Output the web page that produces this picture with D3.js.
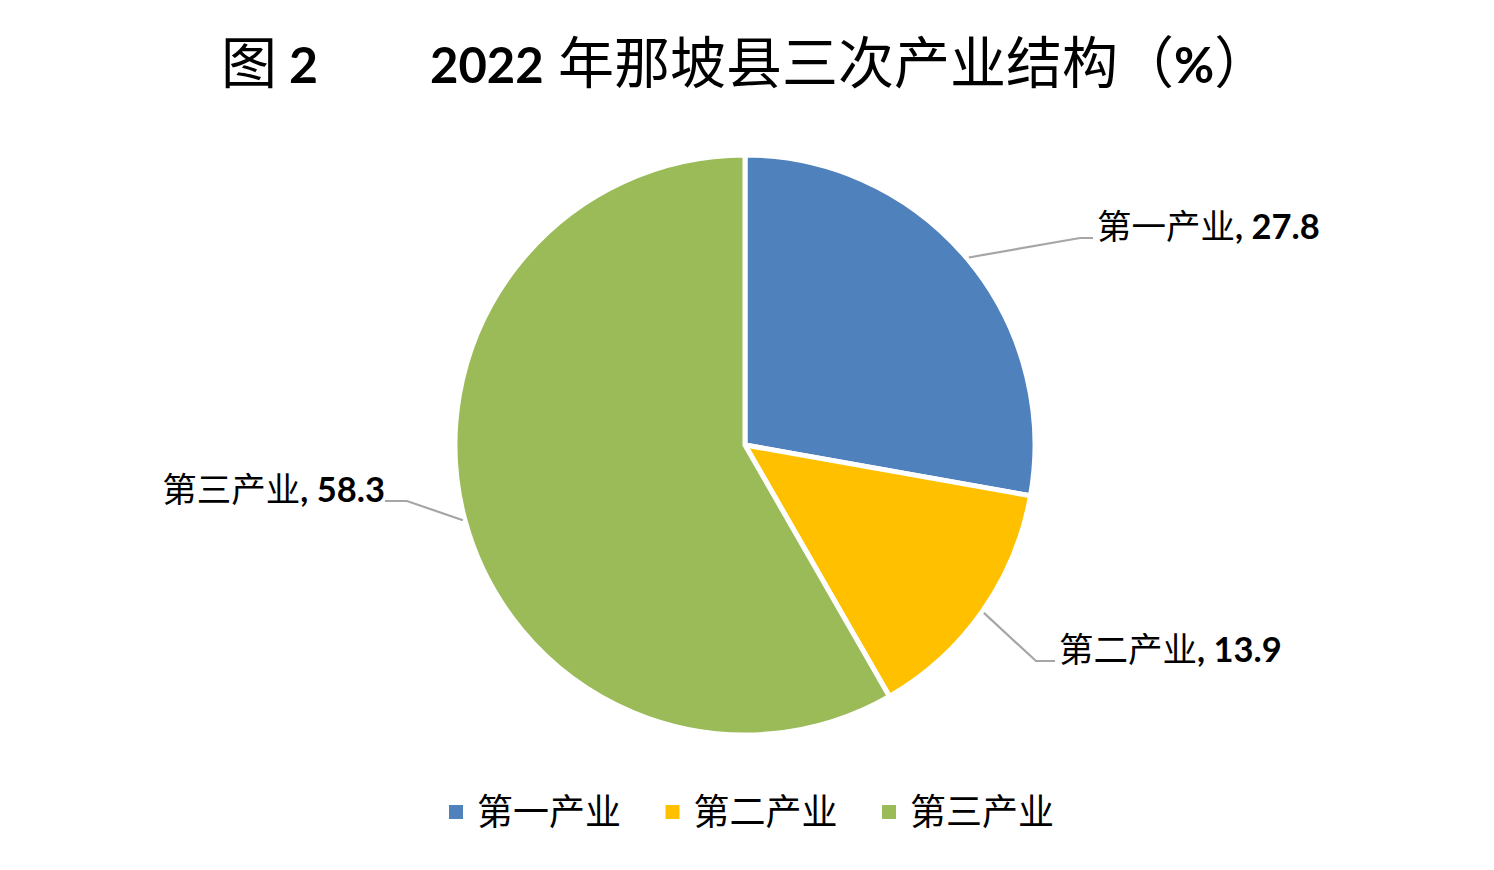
<!DOCTYPE html>
<html>
<head>
<meta charset="utf-8">
<script src="https://cdn.jsdelivr.net/npm/d3@7"></script>
<style>
  body { margin: 0; background: #fff; }
  .cjk { font-family: "Noto Sans CJK SC", sans-serif; }
  .num { font-family: Lato, "Open Sans", sans-serif; font-weight: bold; }
</style>
</head>
<body>
<div id="chart-area"></div>
<script>
// data
let categories = ['第一产业', '第二产业', '第三产业'];
let values = [27.8, 13.9, 58.3];
let colors = ['#4F81BD', '#FFC000', '#9BBB59'];

let width = 1494,
  height = 870;

let svg = d3
  .select('#chart-area')
  .append('svg')
  .attr('width', width)
  .attr('height', height);

// Title
let title = svg.append('text').attr('y', 83).attr('font-size', 56);
title.append('tspan').attr('class', 'cjk').attr('x', 221).text('图');
title.append('tspan').attr('class', 'num').attr('font-size', 50).attr('x', 289).text('2');
let title2 = svg.append('text').attr('y', 83).attr('font-size', 56);
title2.append('tspan').attr('class', 'num').attr('x', 430).attr('font-size', 49).text('2022');
title2.append('tspan').attr('class', 'cjk').attr('x', 558).text('年那坡县三次产业结构（');
title2.append('tspan').attr('class', 'num').attr('font-size', 49).text('%');
title2.append('tspan').attr('class', 'cjk').text('）');

// Pie
let cx = 745, cy = 445, radius = 290;

let pie = d3.pie().sort(null).value(d => d.value);
let arc = d3.arc().innerRadius(0).outerRadius(radius);
let outer = d3.arc().innerRadius(radius + 2).outerRadius(radius + 2);

let data = categories.map((c, i) => ({ name: c, value: values[i], color: colors[i] }));
let arcs = pie(data);

let g = svg.append('g').attr('transform', 'translate(' + cx + ',' + cy + ')');

g.selectAll('path.slice')
  .data(arcs)
  .enter()
  .append('path')
  .attr('class', 'slice')
  .attr('d', arc)
  .attr('fill', d => d.data.color)
  .attr('stroke', '#fff')
  .attr('stroke-width', 5)
  .attr('stroke-linejoin', 'round');

// label layout: elbow point and line end (relative to center), text anchor side
let labelLayout = [
  { elbow: [335, -207], end: [348, -207], side: 'start' },
  { elbow: [291, 216], end: [310, 216], side: 'start' },
  { elbow: [-338, 56], end: [-360, 56], side: 'end' }
];

g.selectAll('polyline.leader')
  .data(arcs)
  .enter()
  .append('polyline')
  .attr('class', 'leader')
  .attr('fill', 'none')
  .attr('stroke', '#A6A6A6')
  .attr('stroke-width', 2.2)
  .attr('points', (d, i) => {
    let p = outer.centroid(d);
    let l = labelLayout[i];
    return [p, l.elbow, l.end].map(q => q.join(',')).join(' ');
  });

let labels = g.selectAll('text.lbl')
  .data(arcs)
  .enter()
  .append('text')
  .attr('class', 'lbl')
  .attr('font-size', 34.5)
  .attr('text-anchor', (d, i) => labelLayout[i].side)
  .attr('x', (d, i) => labelLayout[i].end[0] + (labelLayout[i].side === 'start' ? 4 : 0))
  .attr('y', (d, i) => labelLayout[i].end[1] + 1);

labels.append('tspan').attr('class', 'cjk').text(d => d.data.name);
labels.append('tspan').attr('class', 'num').attr('font-size', 34.5).text(d => ', ' + d.data.value);

// Legend
let legend = svg.selectAll('g.legend')
  .data(data)
  .enter()
  .append('g')
  .attr('class', 'legend')
  .attr('transform', (d, i) => 'translate(' + (449 + i * 216.5) + ',812)');

legend.append('rect')
  .attr('x', 0)
  .attr('y', -7)
  .attr('width', 14)
  .attr('height', 14)
  .attr('fill', d => d.color);

legend.append('text')
  .attr('class', 'cjk')
  .attr('x', 28)
  .attr('y', 0)
  .attr('dy', '0.36em')
  .attr('font-size', 36)
  .text(d => d.name);
</script>
</body>
</html>
